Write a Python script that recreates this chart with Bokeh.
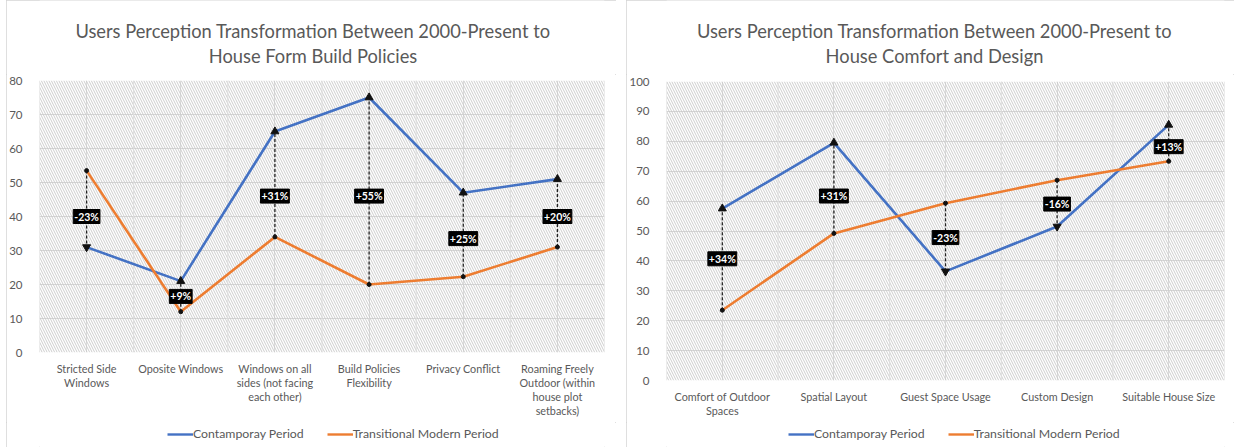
from bokeh.plotting import figure
from bokeh.models import (ColumnDataSource, BoxAnnotation, Span, Legend, LegendItem,
                          FixedTicker)
from bokeh.core.properties import value
from bokeh.layouts import row, column
from bokeh.embed import file_html
from bokeh.resources import INLINE

# ---------------- data ----------------
left_title = ["Users Perception Transformation Between 2000-Present to", "House Form Build Policies"]
left_categories = ["Stricted Side\nWindows", "Oposite Windows", "Windows on all\nsides (not facing\neach other)",
                   "Build Policies\nFlexibility", "Privacy Conflict",
                   "Roaming Freely\nOutdoor (within\nhouse plot\nsetbacks)"]
left_contemporary = [31, 21, 65, 75, 47, 51]
left_transitional = [53.5, 12, 34, 20, 22.3, 31]
left_change = ["-23%", "+9%", "+31%", "+55%", "+25%", "+20%"]
left_label_y = [40, 16.5, 46, 46, 33.5, 40]

right_title = ["Users Perception Transformation Between 2000-Present to", "House Comfort and Design"]
right_categories = ["Comfort of Outdoor\nSpaces", "Spatial Layout", "Guest Space Usage",
                    "Custom Design", "Suitable House Size"]
right_contemporary = [57.5, 79.5, 36.5, 51.5, 85.5]
right_transitional = [23.5, 49.2, 59.3, 67, 73.3]
right_change = ["+34%", "+31%", "-23%", "-16%", "+13%"]
right_label_y = [40.7, 61.7, 47.8, 59, 78.2]

series_names = ["Contamporay Period", "Transitional Modern Period"]
BLUE = "#4472C4"
ORANGE = "#ED7D31"
GRAY = "#595959"
FONT = "Lato"

TITLE_H, MAIN_H, LEG_H = 74, 348, 25


def strip(width, height, mb_left, mb_right, yr):
    s = figure(width=width, height=height, output_backend="svg", toolbar_location=None,
               x_axis_location=None, y_axis_location=None,
               min_border_left=mb_left, min_border_right=mb_right,
               min_border_top=0, min_border_bottom=0, x_range=(0, 1), y_range=yr)
    s.outline_line_color = None
    s.grid.visible = False
    return s


def make_panel(title, cats, blue, orange, change, label_y, ymax, width,
               mb_left, mb_right, mb_top, mb_bottom, margin, legend_x, legend_y, title_dx):
    # title strip
    ts = strip(width, TITLE_H, mb_left, mb_right, (0, TITLE_H))
    ts.text(x=[0.5, 0.5], y=[TITLE_H - 30.7, TITLE_H - 55.7], text=title, x_offset=title_dx,
            text_align="center", text_baseline="middle", text_color=GRAY,
            text_font=value(FONT), text_font_size="18.3px")

    p = figure(x_range=cats, y_range=(0, ymax), width=width, height=MAIN_H,
               output_backend="svg", toolbar_location=None,
               min_border_left=mb_left, min_border_right=mb_right,
               min_border_top=mb_top, min_border_bottom=mb_bottom)
    p.outline_line_color = None
    p.background_fill_color = "white"

    # hatch background
    p.add_layout(BoxAnnotation(fill_alpha=0, line_color=None, hatch_pattern="\\",
                               hatch_color="#c4c4c4", hatch_scale=5, hatch_weight=0.85,
                               level="underlay"))

    # grid
    p.xgrid.grid_line_color = "#dddddd"
    p.xgrid.grid_line_width = 1
    p.ygrid.grid_line_color = "#d8d8d8"
    p.ygrid.grid_line_width = 1
    for i in range(len(cats) + 1):
        p.add_layout(Span(location=i, dimension="height", line_color="#dddddd", line_width=1,
                          level="underlay"))

    # axes
    for ax in (p.xaxis[0], p.yaxis[0]):
        ax.axis_line_color = None
        ax.major_tick_line_color = None
        ax.minor_tick_line_color = None
        ax.major_label_text_color = GRAY
        ax.major_label_text_font = FONT
    p.xaxis.major_label_text_font_size = "10.8px"
    p.yaxis.major_label_text_font_size = "11.5px"
    p.xaxis.major_label_text_line_height = 1.08
    p.yaxis.ticker = FixedTicker(ticks=list(range(0, ymax + 1, 10)))
    p.yaxis.major_label_standoff = 11
    p.xaxis.major_label_standoff = 3

    # lines
    p.line(cats, blue, line_color=BLUE, line_width=2.6)
    p.line(cats, orange, line_color=ORANGE, line_width=2.6)

    # arrows
    src = ColumnDataSource(dict(
        x=cats, y0=orange, y1=blue, ly=label_y, txt=change,
        marker=["triangle" if b > o else "inverted_triangle" for b, o in zip(blue, orange)]))
    p.segment(x0="x", y0="y0", x1="x", y1="y1", source=src, line_color="#222222",
              line_width=1.3, line_dash="3 2")
    p.scatter(x="x", y="y0", source=src, size=4, marker="circle", color="#111111")
    p.scatter(x="x", y="y1", source=src, size=8, marker="marker", color="#111111")

    p.text(x="x", y="ly", text="txt", source=src, text_align="center",
           text_baseline="middle", text_color="white", text_font=value(FONT),
           text_font_size="10.5px", text_font_style="bold",
           background_fill_color="black", border_line_color="black", padding=1)

    # legend strip
    lg = strip(width, LEG_H, mb_left, mb_right, (0, 1))
    rb = lg.line([-5, -4], [-5, -4], line_color=BLUE, line_width=2.4)
    ro = lg.line([-5, -4], [-5, -4], line_color=ORANGE, line_width=2.4)
    legend = Legend(items=[LegendItem(label=series_names[0], renderers=[rb]),
                           LegendItem(label=series_names[1], renderers=[ro])],
                    orientation="horizontal", location=(legend_x, legend_y),
                    background_fill_alpha=0, border_line_color=None, padding=0, margin=0,
                    spacing=23, glyph_width=26, glyph_height=14, label_standoff=0,
                    label_text_font=FONT, label_text_font_size="12.3px",
                    label_text_color=GRAY, label_height=14)
    lg.add_layout(legend)

    col = column(ts, p, lg, spacing=0, margin=margin,
                 styles={"outline": "1px solid #d4d4d4", "outline-offset": "-1px"})
    return col


c1 = make_panel(left_title, left_categories, left_contemporary, left_transitional,
                left_change, left_label_y, 80, 610, 32, 12, 6, 70, (0, 0, 0, 6),
                128, 6, -9)
c2 = make_panel(right_title, right_categories, right_contemporary, right_transitional,
                right_change, right_label_y, 100, 608, 38, 10, 7, 42, (0, 0, 0, 10),
                122, 6, -11)

layout = row(c1, c2, spacing=0)
open("out.html", "w").write(file_html(layout, INLINE))
